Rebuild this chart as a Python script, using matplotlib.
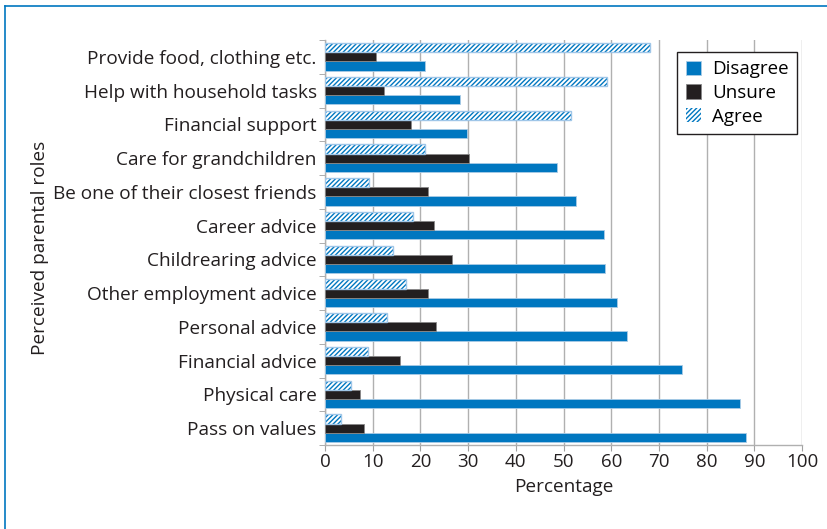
import numpy as np
import matplotlib.pyplot as plt
from matplotlib.lines import Line2D

plt.rcParams['font.family'] = ['Open Sans', 'DejaVu Sans']
plt.rcParams['hatch.linewidth'] = 1.0

# 数据（从上到下）
roles = ['Provide food, clothing etc.', 'Help with household tasks', 'Financial support',
         'Care for grandchildren', 'Be one of their closest friends', 'Career advice',
         'Childrearing advice', 'Other employment advice', 'Personal advice',
         'Financial advice', 'Physical care', 'Pass on values']
disagree = [21.0, 28.2, 29.8, 48.6, 52.7, 58.5, 58.7, 61.3, 63.3, 74.9, 86.9, 88.3]
unsure = [10.7, 12.4, 18.1, 30.2, 21.5, 22.8, 26.6, 21.5, 23.2, 15.8, 7.4, 8.1]
agree = [68.2, 59.1, 51.5, 21.0, 9.2, 18.4, 14.2, 17.0, 13.1, 9.0, 5.5, 3.4]

blue = '#0077c0'
dark = '#231f20'

fig = plt.figure(figsize=(8.27, 5.29), dpi=100)
ax = fig.add_axes([325 / 827, 1 - 445 / 529, 477 / 827, 405 / 529])

n = len(roles)
y = np.arange(n)[::-1].astype(float)  # 顶部为第一个
h = 0.27

ax.barh(y - h, disagree, h, color=blue, edgecolor='#a9cbe6', linewidth=0.6, label='Disagree', zorder=3)
ax.barh(y, unsure, h, color=dark, edgecolor='#888888', linewidth=0.6, label='Unsure', zorder=3)
ax.barh(y + h, agree, h, color='white', edgecolor=blue, hatch='///////', linewidth=0,
        label='Agree', zorder=3)
# 斜线条的浅蓝色外框
ax.barh(y + h, agree, h, fill=False, edgecolor='#9fc6e8', linewidth=1.0, zorder=4)

ax.set_xlim(0, 100)
ax.set_ylim(-0.5, n - 0.5)
ax.set_xticks(np.arange(0, 101, 10))
ax.set_yticks(y)
ax.set_yticklabels(roles, fontsize=13.7, color='#231f20')
ax.set_yticks(np.arange(-0.5, n, 1), minor=True)
ax.tick_params(axis='y', which='major', length=0, pad=6)
ax.tick_params(axis='y', which='minor', length=4, color='#a0a0a0')
ax.tick_params(axis='x', length=4, color='#a0a0a0', labelsize=13.5, labelcolor='#231f20', pad=2)

ax.grid(axis='x', color='#b0b0b0', linewidth=1.0, zorder=0)
for s in ['top', 'right']:
    ax.spines[s].set_visible(False)
for s in ['left', 'bottom']:
    ax.spines[s].set_color('#b0b0b0')
    ax.spines[s].set_linewidth(1.0)

ax.set_xlabel('Percentage', fontsize=13.7, color='#231f20', labelpad=5)
fig.text(40 / 827, 1 - 248 / 529, 'Perceived parental roles', rotation=90, fontsize=13.7,
         color='#231f20', ha='center', va='center')

leg = ax.legend(loc='upper right', bbox_to_anchor=(797 / 827, 1 - 52 / 529),
                bbox_transform=fig.transFigure, frameon=True, fancybox=False,
                fontsize=13.5, handlelength=0.8, handleheight=0.8, handletextpad=0.6,
                labelspacing=0.3, borderpad=0.45, borderaxespad=0)
leg.get_frame().set_edgecolor('#231f20')
leg.get_frame().set_linewidth(1.0)
leg.get_frame().set_alpha(1)

# 蓝色外框（上、左）
fig.add_artist(Line2D([5 / 827, 1], [1 - 6 / 529, 1 - 6 / 529], color=blue, linewidth=1.2,
                      transform=fig.transFigure))
fig.add_artist(Line2D([5 / 827, 5 / 827], [0, 1 - 6 / 529], color=blue, linewidth=1.2,
                      transform=fig.transFigure))

fig.savefig('out.png', dpi=100)
